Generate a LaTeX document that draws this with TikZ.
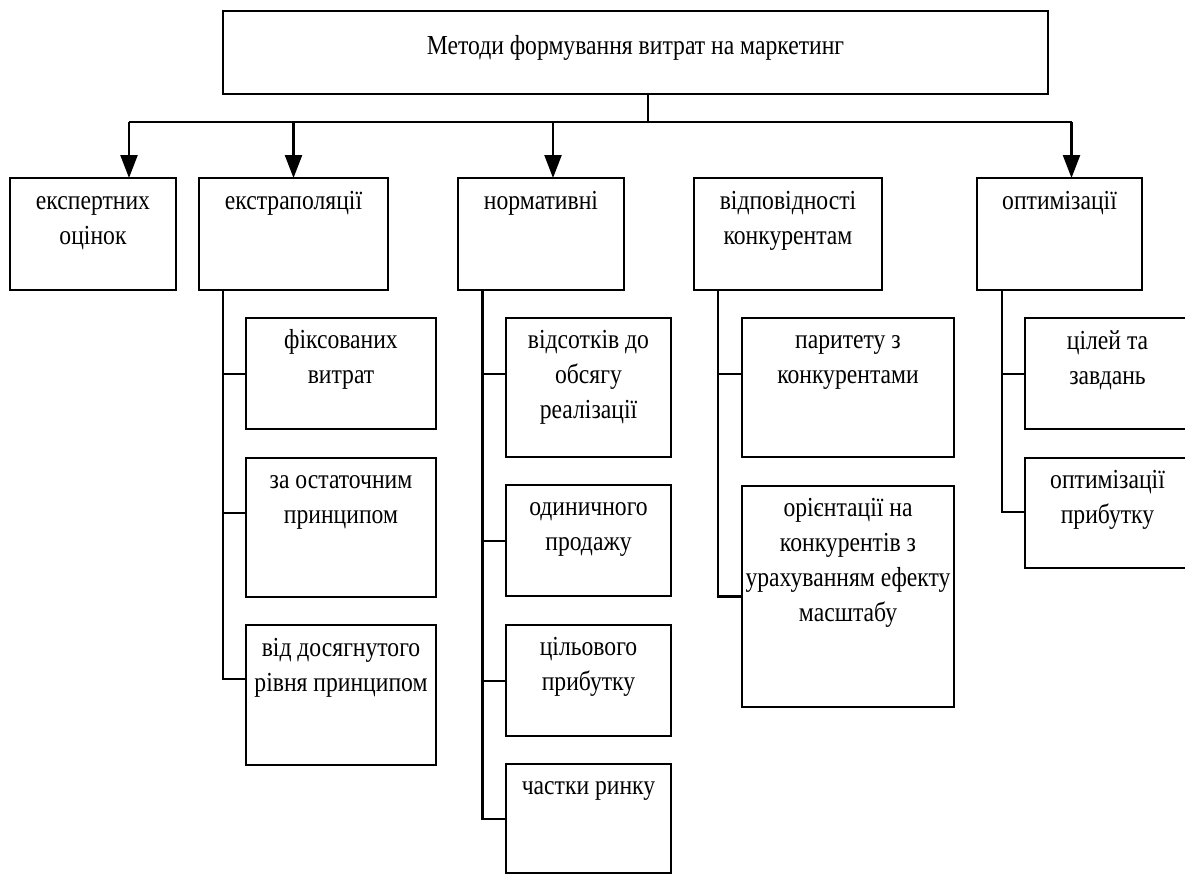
\documentclass[tikz,border=0pt]{standalone}
\usepackage{fontspec}
\newfontfamily\tnr[FakeStretch=0.86]{Liberation Serif}
\usetikzlibrary{arrows.meta,calc}
\begin{document}
\begin{tikzpicture}[x=1pt,y=-1pt,
  box/.style={draw, line width=2.2pt, anchor=north west, inner sep=0pt, outer sep=0pt},
  txt/.style={inner sep=0pt, align=flush center, text width=230pt, anchor=base, font=\tnr\fontsize{27.5}{35}\selectfont},
  conn/.style={line width=2.2pt},
  stemline/.style={line width=1.6pt},
  arr/.style={line width=2.4pt, -{Triangle[length=23pt,width=17pt]}}]
\useasboundingbox (0,0) rectangle (1185,875);
\clip (0,0) rectangle (1185,875);
% top box
\node[box, minimum width=825pt, minimum height=83pt] (top) at (223,11) {};
\node[txt, text width=600pt] (ttop) at ([yshift=-44pt]top.north) {Методи формування витрат на маркетинг};
% level 1
\node[box, minimum width=166pt, minimum height=112pt] (exp) at (10,178) {};
\node[box, minimum width=189pt, minimum height=112pt] (extr) at (199,178) {};
\node[box, minimum width=166pt, minimum height=112pt] (norm) at (458,178) {};
\node[box, minimum width=188pt, minimum height=112pt] (vidp) at (694,178) {};
\node[box, minimum width=165pt, minimum height=112pt] (opt) at (977,178) {};
\node[txt] (texp) at ([yshift=-31pt]exp.north) {експертних\\оцінок};
\node[txt] (textr) at ([yshift=-31pt]extr.north) {екстраполяції};
\node[txt] (tnorm) at ([yshift=-31pt]norm.north) {нормативні};
\node[txt] (tvidp) at ([yshift=-31pt]vidp.north) {відповідності\\конкурентам};
\node[txt] (topt) at ([yshift=-31pt]opt.north) {оптимізації};
% level 2: extrapolation
\node[box, minimum width=190pt, minimum height=111pt] (fix) at (246,318) {};
\node[box, minimum width=190pt, minimum height=139pt] (ost) at (246,458) {};
\node[box, minimum width=190pt, minimum height=140pt] (dos) at (246,625) {};
\node[txt] (tfix) at ([yshift=-30pt]fix.north) {фіксованих\\витрат};
\node[txt] (tost) at ([yshift=-30pt]ost.north) {за остаточним\\принципом};
\node[txt] (tdos) at ([yshift=-31pt]dos.north) {від досягнутого\\рівня принципом};
% level 2: normative
\node[box, minimum width=165pt, minimum height=139pt] (vids) at (506,318) {};
\node[box, minimum width=165pt, minimum height=111pt] (odyn) at (506,485) {};
\node[box, minimum width=165pt, minimum height=111pt] (cil) at (506,625) {};
\node[box, minimum width=165pt, minimum height=109pt] (chast) at (506,764) {};
\node[txt] (tvids) at ([yshift=-30pt]vids.north) {відсотків до\\обсягу\\реалізації};
\node[txt] (todyn) at ([yshift=-30pt]odyn.north) {одиничного\\продажу};
\node[txt] (tcil) at ([yshift=-30pt]cil.north) {цільового\\прибутку};
\node[txt] (tchast) at ([yshift=-30pt]chast.north) {частки ринку};
% level 2: competitors
\node[box, minimum width=212pt, minimum height=139pt] (par) at (742,318) {};
\node[box, minimum width=212pt, minimum height=221pt] (orient) at (742,486) {};
\node[txt] (tpar) at ([yshift=-30pt]par.north) {паритету з\\конкурентами};
\node[txt] (torient) at ([yshift=-30pt]orient.north) {орієнтації на\\конкурентів з\\урахуванням ефекту\\масштабу};
% level 2: optimisation
\node[box, minimum width=165pt, minimum height=111pt] (tsil) at (1025,318) {};
\node[box, minimum width=165pt, minimum height=110pt] (optpr) at (1025,458) {};
\node[txt] (ttsil) at ([yshift=-31pt]tsil.north) {цілей та\\завдань};
\node[txt] (toptpr) at ([yshift=-30pt]optpr.north) {оптимізації\\прибутку};
% bus and arrows
\coordinate (bus) at (648,122);
\coordinate (aexp) at (129,122);
\coordinate (aextr) at (293.5,122);
\coordinate (anorm) at (553,122);
\coordinate (aopt) at (1071.5,122);
\draw[stemline] (top.south -| bus) -- (bus);
\draw[conn] (aexp) -- (aopt);
\draw[arr] (aexp) -- (aexp |- exp.north);
\draw[arr] (aextr) -- (aextr |- extr.north);
\draw[arr] (anorm) -- (anorm |- norm.north);
\draw[arr] (aopt) -- (aopt |- opt.north);
% branches
\coordinate (ve) at (222.7,290);
\coordinate (vn) at (482.5,290);
\coordinate (vv) at (718,290);
\coordinate (vo) at (1001.7,290);
\draw[conn] (ve) |- ([yshift=-56pt]fix.north west);
\draw[conn] (ve) |- ([yshift=-55pt]ost.north west);
\draw[conn] (ve) |- ([yshift=-54pt]dos.north west);
\draw[conn] (vn) |- ([yshift=-56pt]vids.north west);
\draw[conn] (vn) |- ([yshift=-56pt]odyn.north west);
\draw[conn] (vn) |- ([yshift=-56pt]cil.north west);
\draw[conn] (vn) |- ([yshift=-55pt]chast.north west);
\draw[conn] (vv) |- ([yshift=-56pt]par.north west);
\draw[conn] (vv) |- (orient.west);
\draw[conn] (vo) |- ([yshift=-56pt]tsil.north west);
\draw[conn] (vo) |- ([yshift=-54pt]optpr.north west);
\end{tikzpicture}
\end{document}
